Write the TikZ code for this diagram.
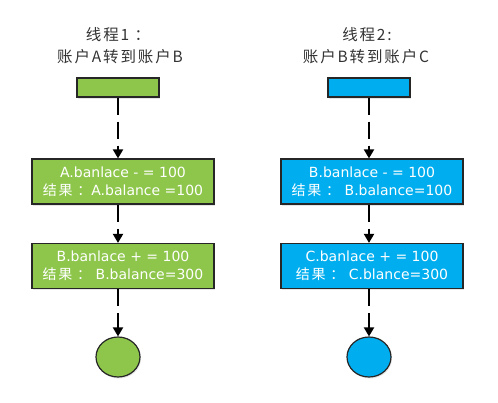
\documentclass[tikz,border=0pt]{standalone}
\usepackage{fontspec}
\setmainfont{DejaVu Sans}
\newfontfamily\cjkwide{Noto Sans CJK SC}[LetterSpace=12]
\usetikzlibrary{arrows.meta,shapes.geometric,shadows}
\definecolor{leafgreen}{RGB}{141,198,74}
\definecolor{skyblue}{RGB}{0,174,239}

\tikzset{
  bar/.style={draw=black!85,line width=1.2pt,minimum width=82pt,minimum height=19pt,inner sep=0pt,
    drop shadow={opacity=0.2,shadow xshift=1pt,shadow yshift=-1.5pt}},
  stepbox/.style={bar,minimum width=182pt,minimum height=45pt,text=white,align=center,
    font=\fontsize{14}{18}\selectfont},
  endpoint/.style={bar,ellipse,minimum width=44pt,minimum height=40pt},
  title/.style={font=\cjkwide\fontsize{15.5}{22}\selectfont,text=black!80},
  flow/.style={line width=2pt,dash pattern=on 17pt off 7pt,-{Triangle[width=10pt,length=9pt]}}
}

\begin{document}
\begin{tikzpicture}[x=1pt,y=-1pt]
\useasboundingbox (0,0) rectangle (498,402);

\node[title] (t1a) at (118,35) {线程1 ：};
\node[title] (t1b) at (120,57) {账户A转到账户B};
\node[title] (t2a) at (367,35) {线程2:};
\node[title] (t2b) at (366,57) {账户B转到账户C};

\node[bar,fill=leafgreen] (bar1) at (118,87.5) {};
\node[stepbox,fill=leafgreen] (sub1) at (123,181.5) {A.banlace - = 100\\{\cjkwide 结果 ：}A.balance =100};
\node[stepbox,fill=leafgreen] (add1) at (123,266) {B.banlace + = 100\\{\cjkwide 结果 ：} B.balance=300};
\node[endpoint,fill=leafgreen] (end1) at (118,357) {};

\node[bar,fill=skyblue] (bar2) at (369,87.5) {};
\node[stepbox,fill=skyblue] (sub2) at (372,181.5) {B.banlace - = 100\\{\cjkwide 结果 ：} B.balance=100};
\node[stepbox,fill=skyblue] (add2) at (372,266) {C.banlace + = 100\\{\cjkwide 结果 ：} C.blance=300};
\node[endpoint,fill=skyblue] (end2) at (369,357) {};

\draw[flow] (bar1.south) -- (bar1.south |- sub1.north);
\draw[flow] (sub1.south -| bar1) -- (add1.north -| bar1);
\draw[flow] (add1.south -| bar1) -- (end1.north);

\draw[flow] (bar2.south) -- (bar2.south |- sub2.north);
\draw[flow] (sub2.south -| bar2) -- (add2.north -| bar2);
\draw[flow] (add2.south -| bar2) -- (end2.north);
\end{tikzpicture}
\end{document}
